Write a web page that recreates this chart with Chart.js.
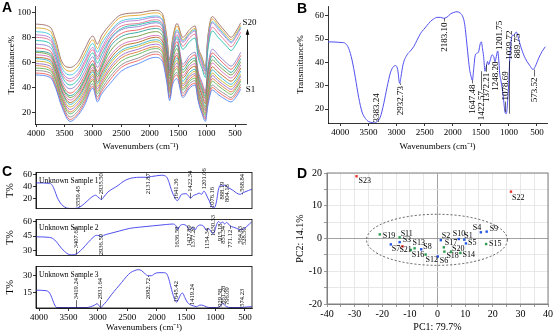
<!DOCTYPE html>
<html>
<head>
<meta charset="utf-8">
<script src="https://cdn.jsdelivr.net/npm/chart.js@4.4.0/dist/chart.umd.min.js"></script>
<style>
  html, body { margin: 0; padding: 0; background: #fff; }
  body { width: 554px; height: 335px; position: relative; overflow: hidden; }
  canvas { position: absolute; }
  .tag { position: absolute; font: bold 14px 'Liberation Sans', Arial, sans-serif; line-height: 14px; }
</style>
</head>
<body>
<canvas id="chA" width="265" height="160" style="left:0;top:0"></canvas>
<canvas id="chB" width="277" height="160" style="left:277px;top:0"></canvas>
<canvas id="chC1" width="262" height="49" style="left:0;top:166px"></canvas>
<canvas id="chC2" width="262" height="49" style="left:0;top:213px"></canvas>
<canvas id="chC3" width="262" height="75" style="left:0;top:260px"></canvas>
<canvas id="chD" width="277" height="170" style="left:277px;top:165px"></canvas>
<div class="tag" style="left:2px;top:0">A</div>
<div class="tag" style="left:297px;top:1px">B</div>
<div class="tag" style="left:2px;top:164px">C</div>
<div class="tag" style="left:297px;top:166px">D</div>
<script>
const serif = "'Liberation Serif', 'Times New Roman', serif";

// ---------- A: FTIR spectra of S1..S20
const wavesA = [4000, 3750, 3650, 3550, 3400, 3250, 3150, 3000, 2920, 2850, 2700, 2500, 2200, 1900, 1780, 1700,
  1650, 1600, 1520, 1420, 1300, 1200, 1150, 1080, 1020, 980, 900, 800, 650, 570, 480, 400];
const s1 = [50, 48, 39, 25, 13, 18.5, 25.5, 39.5, 28.5, 34.5, 43, 53, 59, 64, 61, 44, 29.5, 42, 47, 32, 39.5, 42, 29.5, 19, 13, 25, 38, 34.5, 30, 28.5, 32.5, 38.5];
const s2 = [51.5, 49.5, 40.5, 26.5, 14.5, 20, 27.5, 41, 30.5, 36.5, 46, 56, 61.5, 66.5, 63.5, 46.5, 31.5, 44.5, 50, 33.5, 41, 43.5, 31, 20.5, 14.5, 27, 40, 36.5, 32, 30.5, 34.5, 40.5];
const s3 = [53.5, 51.5, 42, 28, 16.5, 22, 29.5, 43, 32.5, 38.5, 48.5, 58, 63.5, 68.5, 65.5, 48.5, 33, 46, 52, 35.5, 43, 45.5, 32.5, 22, 16, 29, 42, 38.5, 34, 32, 36.5, 42.5];
const s4 = [55.5, 53.5, 44.5, 30, 19, 24.5, 31.5, 45.5, 35, 41, 51.5, 61, 66.5, 71, 68, 50.5, 35.5, 48.5, 55, 38, 45, 47.5, 34.5, 24.5, 18, 31.5, 45, 41.5, 36.5, 34.5, 39, 45];
const s5 = [57.5, 55, 46, 31.5, 20.5, 26, 33.5, 47, 37, 43, 54, 63.5, 68.5, 72.5, 69.5, 52.5, 37, 50.5, 57, 39.5, 46.5, 49.5, 36, 26, 19.5, 33.5, 47, 43.5, 38.5, 36.5, 40.5, 46.5];
const s6 = [59, 57, 47.5, 33, 22.5, 28, 35.5, 49, 39, 45, 56, 65.5, 70.5, 74.5, 71.5, 54.5, 38.5, 52, 59.5, 41.5, 48.5, 51, 38, 28, 21.5, 35.5, 49.5, 45.5, 40.5, 38.5, 42.5, 49];
const s7 = [61, 59, 49.5, 34.5, 24.5, 30, 37.5, 50.5, 41, 47, 58.5, 68, 72.5, 76.5, 73.5, 56, 40, 54, 61.5, 43, 50, 53, 39.5, 29.5, 23, 37.5, 51.5, 47.5, 42.5, 40.5, 44.5, 50.5];
const s8 = [63, 60.5, 51, 36.5, 26.5, 32, 39.5, 52.5, 43, 49, 60.5, 69.5, 74, 78, 75, 57.5, 41.5, 55.5, 63.5, 45, 52, 54.5, 41, 31, 24.5, 40, 54, 50, 44.5, 42.5, 46.5, 53];
const s9 = [64, 62, 52.5, 37.5, 28, 33.5, 41, 54, 44.5, 51, 62.5, 72, 76, 80, 77, 59.5, 43, 57.5, 65.5, 47.5, 54.5, 57, 43.5, 33.5, 27, 42.5, 56.5, 52.5, 47, 45, 49, 55.5];
const s10 = [66, 64, 54, 39, 30, 35.5, 43, 56, 46.5, 53, 65, 74, 78, 81.5, 79, 61.5, 45, 59, 67.5, 49.5, 56.5, 59, 45.5, 35.5, 29, 45, 59.5, 55.5, 49.5, 47.5, 51.5, 58];
const s11 = [68, 65.5, 55.5, 41, 32, 37, 45, 58, 48.5, 55, 68.5, 77.5, 81, 84.5, 81.5, 64, 47, 61.5, 71, 52, 58.5, 61.5, 47.5, 37.5, 31, 47.5, 62, 58, 52, 50, 54, 60.5];
const s12 = [69, 67, 57, 42, 33.5, 38.5, 46.5, 59, 50.5, 56.5, 72, 80.5, 84, 87, 84.5, 67, 49.5, 64.5, 74, 54, 61, 63.5, 49.5, 39.5, 33, 50.5, 65, 60.5, 54.5, 52, 56.5, 63];
const s13 = [71.5, 69, 59, 44, 35.5, 41, 49, 61.5, 52.5, 59, 74.5, 83, 86, 89, 86.5, 69, 51.5, 66.5, 76.5, 56.5, 63, 66, 51.5, 42, 35, 53, 67.5, 63.5, 57, 54.5, 59, 65.5];
const s14 = [74.5, 72, 62, 46.5, 39, 44, 52, 64.5, 56, 62.5, 77.5, 86, 88.5, 91.5, 88.5, 71, 53, 68.5, 79, 58.5, 65.5, 68, 53.5, 44, 37, 55.5, 70.5, 66, 59.5, 57, 61.5, 68];
const s15 = [77.5, 75, 64.5, 49.5, 42, 47, 55.5, 67.5, 59.5, 66, 78.5, 87, 90, 92.5, 90, 72, 54, 69.5, 80.5, 70.5, 76.5, 79.5, 64.5, 55, 48, 69, 85, 80, 73, 69.5, 74.5, 81];
const s16 = [80, 77.5, 67, 51.5, 45, 50, 58.5, 70, 62.5, 69, 80.5, 89, 91, 94, 91, 73.5, 55.5, 71, 82, 73, 79.5, 82.5, 67, 57.5, 50.5, 72, 88, 83.5, 76, 72.5, 77.5, 84];
const s17 = [82, 79.5, 69, 53.5, 47, 52, 60.5, 72, 64.5, 71, 83, 91.5, 93.5, 96, 93.5, 75.5, 57, 73, 84.5, 76, 82, 85, 69.5, 60, 53, 75.5, 91.5, 86.5, 79, 75.5, 80.5, 87];
const s18 = [84.5, 82, 71.5, 56, 50, 55, 63.5, 75, 68, 74.5, 84.5, 93, 95, 97, 94.5, 76.5, 58.5, 74.5, 86, 77, 83, 86, 70, 61, 53.5, 76.5, 92.5, 88, 80, 76.5, 81.5, 88];
const s19 = [87.5, 85, 74, 58.5, 53, 58, 66.5, 78, 71, 77.5, 87.5, 96, 97.5, 99.5, 97, 79, 60.5, 76.5, 89, 78, 84, 87, 71.5, 62.5, 55, 78, 94.5, 89.5, 81.5, 78, 83, 89.5];
const s20 = [90.5, 88, 77, 61, 56, 61, 70, 81, 74.5, 81, 90, 98, 99.5, 101.5, 99, 81, 62, 78.5, 91, 80, 86, 89, 73, 64, 56.5, 80, 96.5, 91.5, 83.5, 80, 85, 91.5];
const seriesA = [s1, s2, s3, s4, s5, s6, s7, s8, s9, s10, s11, s12, s13, s14, s15, s16, s17, s18, s19, s20];
const colorsA = ['#4f86f7', '#f0625d', '#8c8c8c', '#5cb85c', '#e07b39', '#9b6bcc', '#c9b227', '#33b5c9', '#b5651d', '#d66cb8',
  '#6c9a3a', '#2aa198', '#e8575a', '#8a7fd0', '#20c0b0', '#e26f8f', '#b27ad6', '#3fc7de', '#e0a82e', '#9c6b66'];
const xTicksA = [4000, 3500, 3000, 2500, 2000, 1500, 1000, 500];
const yTicksA = [20, 40, 60, 80, 100];

// ---------- B: single spectrum with peak labels
const wavesB = [4220, 3970, 3911, 3852, 3792, 3733, 3674, 3614, 3555, 3496, 3437, 3400, 3347, 3288, 3229, 3170, 3110, 3051, 3015, 2980,
  2944, 2920, 2885, 2814, 2754, 2695, 2636, 2576, 2517, 2458, 2398, 2339, 2280, 2220, 2161, 2102, 2042, 1983, 1924, 1864,
  1829, 1793, 1770, 1746, 1723, 1699, 1675, 1650, 1628, 1598, 1568, 1539, 1509, 1491, 1467, 1450, 1426, 1403, 1379, 1361,
  1331, 1301, 1271, 1248, 1224, 1200, 1176, 1165, 1141, 1117, 1093, 1070, 1046, 1022, 1004, 987, 963, 939, 915, 892,
  868, 844, 797, 737, 678, 618, 571, 530, 470, 411, 352];
const valuesB = [48.8, 48.5, 48.1, 46, 41, 33.4, 25, 18.7, 16, 14.6, 14.2, 14, 14.6, 16.6, 22.2, 29.2, 35.5, 38.3, 38.6, 36.9,
  31, 34, 39, 43.2, 44.9, 46.7, 49.5, 52.3, 54.1, 55.8, 57.5, 58.6, 59.3, 59.3, 58.9, 59.4, 60.7, 61.4, 61.7, 61.1,
  60, 57.2, 53, 47.4, 41.8, 36.9, 34.1, 32.3, 36.9, 43.2, 43.9, 44.6, 48.1, 48.8, 45.3, 42.5, 36.2, 38.3, 40.4, 39,
  41.1, 43.2, 42.5, 40.4, 42.5, 44.9, 39.7, 35.5, 32, 28.5, 23.6, 18.7, 18, 23.6, 30.6, 40.4, 48.8, 51.6, 51.6, 52.3,
  53, 51.6, 47.4, 43.2, 40.4, 38.3, 36.9, 38.3, 41.8, 44.6, 46.7];
const yTicksB = [20, 30, 40, 50, 60];
// [label, x, text bottom, curve value]
const peaksB = [
  ['3383.24', 3360, 14.2, 13.5], ['2932.73', 2940, 17.3, 31], ['2183.10', 2160, 44.6, 58.9],
  ['1647.48', 1660, 18, 32.3], ['1422.57', 1500, 15.2, 36.2], ['1372.21', 1410, 23, 39],
  ['1248.20', 1245, 27.8, 40.4], ['1201.75', 1185, 45.3, 44.9], ['1078.69', 1065, 23.6, 18.7],
  ['1039.72', 1005, 41.1, 18], ['889.75', 858, 41.8, 52.3], ['573.52', 560, 22.9, 36.9]
];

// ---------- C: three unknown samples
const samplesC = ['Unknown Sample 1', 'Unknown Sample 2', 'Unknown Sample 3'];
const wavesC1 = [4050, 3818, 3773, 3733, 3694, 3648, 3592, 3535, 3478, 3393, 3308, 3223, 3138, 3081, 3036, 3002, 2979, 2939, 2900, 2826,
  2741, 2656, 2571, 2485, 2400, 2287, 2173, 2088, 2003, 1918, 1861, 1822, 1788, 1754, 1720, 1680, 1652, 1618, 1578, 1538,
  1504, 1464, 1425, 1380, 1323, 1277, 1238, 1198, 1170, 1141, 1107, 1073, 1039, 1011, 982, 954, 926, 897, 869, 840,
  812, 755, 699, 642, 585, 528, 443, 387];
const valuesC1 = [45.8, 45, 41.5, 32.9, 22.2, 13.5, 7.1, 3.7, 2.8, 2.8, 5, 11.4, 19.1, 23.4, 25.2, 22.2, 20.5, 17.8, 22, 30.8,
  36.3, 41.5, 48, 52.3, 54.4, 55.3, 55.3, 56.6, 57.8, 58.7, 57.8, 54.4, 45.8, 35, 26.5, 19.1, 15.7, 19.9, 26.5, 27.3,
  27.7, 24.3, 20, 24.3, 26.5, 28.6, 26.5, 32, 28.6, 22.2, 15.7, 7.1, 3.7, 5, 15.7, 32.9, 41.5, 42.4, 40.6, 42.4,
  39.4, 36.3, 32.9, 28.6, 26.5, 29.5, 32.9, 35];
const wavesC2 = [4050, 3818, 3733, 3677, 3620, 3563, 3506, 3450, 3393, 3336, 3251, 3166, 3081, 3024, 2979, 2939, 2900, 2797, 2627, 2457,
  2287, 2060, 1833, 1720, 1674, 1646, 1606, 1549, 1493, 1436, 1391, 1351, 1312, 1266, 1210, 1181, 1153, 1124, 1084, 1051,
  1022, 982, 948, 914, 880, 846, 812, 755, 699, 642, 585, 528, 472, 387];
const valuesC2 = [44.2, 43.6, 40.9, 36.8, 32.2, 28.6, 25.9, 25.1, 25.4, 27.3, 32.2, 38.2, 43.6, 45.8, 45.5, 44.2, 45.8, 47.7, 50.5, 53.2,
  54.5, 55.9, 57.3, 57.8, 55.9, 51.8, 55.9, 57.3, 55.9, 51.3, 54.5, 51.3, 55.1, 56.7, 55.9, 53.2, 51.3, 53.2, 50.5, 47.7,
  49.1, 57.3, 60.5, 58.6, 60, 57.8, 59.5, 55.9, 54.5, 53.2, 51.8, 52.4, 55.1, 60];
const wavesC3 = [4050, 3875, 3818, 3773, 3733, 3694, 3500, 3200, 3053, 3013, 2979, 2951, 2911, 2854, 2769, 2684, 2599, 2514, 2446, 2372,
  2315, 2259, 2202, 2145, 2088, 2032, 1975, 1890, 1833, 1799, 1765, 1731, 1697, 1663, 1629, 1595, 1561, 1521, 1481, 1436,
  1380, 1323, 1266, 1210, 1153, 1096, 982, 926, 880, 846, 812, 755, 585, 472, 387];
const valuesC3 = [17.1, 16.6, 14.5, 9.1, 3.8, 1.6, 1.6, 1.6, 3.8, 5.1, 3.2, 1.6, 3.8, 7, 13.1, 18.5, 23.8, 29.2, 32.7, 34.6,
  35.4, 34.6, 31.9, 30, 30, 31.9, 32.7, 32.7, 31.9, 27.9, 21.2, 14.5, 9.1, 6.4, 9.1, 13.1, 14.5, 10.4, 6.4, 4.3,
  3.2, 2.4, 3.8, 3.5, 2.1, 1.6, 1.6, 2.4, 5.1, 3.8, 2.4, 1.6, 1.6, 2.1, 2.4];
const yTicksC1 = [20, 40, 60];
const yTicksC2 = [30, 45, 60];
const yTicksC3 = [15, 30];
const peaksC1 = [
  ['3559.45', 3336, 4.9, 2.8], ['2935.50', 2939, 26.5, 17.8], ['2131.87', 2145, 26.5, 56],
  ['1641.36', 1674, 17.8, 15.7], ['1422.34', 1436, 30.8, 20], ['1201.06', 1198, 35, 32],
  ['1076.16', 1056, 3.5, 4], ['888.19', 891, 17.8, 42], ['804.18', 801, 13.5, 39], ['568.84', 557, 30.8, 26.5]
];
const peaksC2 = [
  ['3407.67', 3365, 32.2, 25.4], ['2936.59', 2939, 24.8, 44.2], ['1636.59', 1663, 32.7, 51.8],
  ['1427.89', 1447, 34.1, 51.3], ['1377.26', 1379, 32.7, 51.3], ['1154.34', 1152, 31.4, 51.3],
  ['1030.33', 1039, 45, 47.7], ['915.18', 920, 39.5, 58.6], ['851.34', 869, 36.8, 57.8],
  ['771.12', 755, 32.7, 55.9], ['564.83', 585, 36.8, 51.8], ['528.50', 517, 35.5, 52.4]
];
const peaksC3 = [
  ['3419.24', 3365, 9.1, 1.6], ['2931.64', 2968, 9.1, 1.6], ['2082.72', 2145, 9.1, 30],
  ['1645.42', 1674, 6.4, 6.4], ['1419.24', 1408, 3.8, 4.3], ['929.58', 926, 2.4, 2.4],
  ['861.28', 880, 5.1, 5.1], ['796.09', 812, 3.8, 3.8], ['574.23', 557, 2.4, 2.4]
];

// ---------- D: PCA scores
const pcaNames = ['S1', 'S2', 'S3', 'S4', 'S5', 'S6', 'S7', 'S8', 'S9', 'S10', 'S11', 'S12',
  'S13', 'S14', 'S15', 'S16', 'S17', 'S18', 'S19', 'S20', 'S21', 'S22', 'S23'];
const pcaPC1 = [9.7, 1.2, -13.7, 15.7, 10.3, 0.1, -16.9, -5.9, 17.8, 7.7, -13.7, -4.3,
  -8.3, 8.3, 17.6, -9.7, 2.3, 2.5, -20.9, 4.9, -12.7, 26.6, -29.3];
const pcaPC2 = [-0.35, -0.5, -1.1, 1.9, -1.5, -5.5, -1.8, -3.3, 2.1, -0.15, 0.35, -4.9,
  -3.0, -4.4, -1.7, -3.5, -2.7, -4.0, 1.25, -4.0, -2.4, 14.3, 19.0];
const pcaGroup = [0, 0, 0, 0, 0, 0, 0, 0, 0, 0, 1, 1, 1, 1, 1, 1, 1, 1, 1, 1, 2, 2, 2];
const groupColors = ['#2457e6', '#2a9d4f', '#e8322b'];
const labelShiftD = [[0, -4], [1, -4], [3, -2], [-8, -4], [2, -1], [2, 4], [1, 5], [2, -2], [3, -3], [-6, -5], [1, -3], [0, 5],
  [-2, -5], [2, 2], [3, 0], [1, 5], [1, -4], [2, 4], [3, 1], [1, -3], [-3, 4], [1, 6], [2, 5]];
const ellipseD = [-0.2, -0.4, 25.5, 7.8];
const xTicksD = [-40, -30, -20, -10, 0, 10, 20, 30, 40];
const yTicksD = [-20, -10, 0, 10, 20];
const xGridD = [-40, -35, -30, -25, -20, -15, -10, -5, 0, 5, 10, 15, 20, 25, 30, 35, 40];
const yGridD = [-20, -15, -10, -5, 0, 5, 10, 15, 20];

// ---------- helpers
function axis(min, max, tickValues, size, extra) {
  const a = {
    type: 'linear', min, max,
    afterBuildTicks: s => { s.ticks = tickValues.map(v => ({ value: v })); },
    grid: { display: true, drawOnChartArea: false, drawTicks: true, tickLength: 3, color: '#000', lineWidth: 0.8 },
    border: { display: true, color: '#000', width: 0.8 },
    ticks: { color: '#000', font: { family: serif, size: 9 }, padding: 1, maxRotation: 0, autoSkip: false,
      callback: v => String(v) },
    afterFit: s => { if (s.isHorizontal()) s.height = size; else s.width = size; }
  };
  return Object.assign(a, extra || {});
}
function title(text, pad, size) {
  return { display: true, text, color: '#000', font: { family: serif, size: size || 9 }, padding: pad };
}
function spectrum(xs, ys, color) {
  return {
    data: xs.map((x, i) => ({ x, y: ys[i] })),
    borderColor: color, borderWidth: 1, pointRadius: 0, fill: false,
    cubicInterpolationMode: 'monotone'
  };
}
function peakPlugin(items, size) {
  return {
    id: 'peaks',
    afterDatasetsDraw(chart) {
      const { ctx, scales: { x, y } } = chart;
      ctx.save();
      ctx.font = size + 'px ' + serif;
      ctx.fillStyle = '#000';
      ctx.strokeStyle = '#000';
      ctx.lineWidth = 0.6;
      items.forEach(([text, wn, bottom, curve]) => {
        const px = Math.round(x.getPixelForValue(wn)) + 0.5;
        const pb = y.getPixelForValue(bottom);
        const pt = pb - ctx.measureText(text).width;
        ctx.save();
        ctx.translate(px, pb);
        ctx.rotate(-Math.PI / 2);
        ctx.textAlign = 'left';
        ctx.textBaseline = 'middle';
        ctx.fillText(text, 0, 0);
        ctx.restore();
        const pc = y.getPixelForValue(curve);
        ctx.beginPath();
        if (pc < pt - 2) { ctx.moveTo(px, pt - 1); ctx.lineTo(px, pc); }
        else if (pc > pb + 2) { ctx.moveTo(px, pb + 1); ctx.lineTo(px, pc); }
        ctx.stroke();
      });
      ctx.restore();
    }
  };
}
function framePlugin(color, caption) {
  return {
    id: 'frame',
    afterDraw(chart) {
      const { ctx, chartArea: a } = chart;
      ctx.save();
      ctx.strokeStyle = color;
      ctx.lineWidth = 0.8;
      ctx.strokeRect(a.left, a.top, a.right - a.left, a.bottom - a.top);
      if (caption) {
        ctx.font = '7.5px ' + serif;
        ctx.fillStyle = '#000';
        ctx.textBaseline = 'middle';
        ctx.fillText(caption, a.left + 3, a.top + 9);
      }
      ctx.restore();
    }
  };
}
const base = { responsive: false, animation: false, devicePixelRatio: 1, events: [] };
const noLegend = { legend: { display: false }, tooltip: { enabled: false } };

// ---------- A
const arrowPlugin = {
  id: 'arrowA',
  afterDraw(chart) {
    const { ctx, chartArea, scales: { y } } = chart;
    const xr = chartArea.right + 1.5;
    const yTop = y.getPixelForValue(s20[s20.length - 1]);
    const yBot = y.getPixelForValue(s1[s1.length - 1]);
    ctx.save();
    ctx.font = '9px ' + serif;
    ctx.fillStyle = '#000';
    ctx.textBaseline = 'middle';
    ctx.textAlign = 'center';
    ctx.fillText('S20', xr + 2, yTop);
    ctx.fillText('S1', xr + 3, yBot);
    ctx.strokeStyle = '#000';
    ctx.lineWidth = 0.8;
    ctx.beginPath(); ctx.moveTo(xr, yBot - 5); ctx.lineTo(xr, yTop + 9); ctx.stroke();
    ctx.beginPath(); ctx.moveTo(xr, yTop + 6); ctx.lineTo(xr - 1.8, yTop + 12); ctx.lineTo(xr + 1.8, yTop + 12);
    ctx.closePath(); ctx.fill();
    ctx.restore();
  }
};
new Chart(document.getElementById('chA'), {
  type: 'line',
  data: { datasets: seriesA.map((v, i) => Object.assign(spectrum(wavesA, v, colorsA[i]), { label: 'S' + (i + 1), borderWidth: 0.9 })) },
  options: Object.assign({}, base, {
    layout: { padding: { left: 0, top: 3, right: 19, bottom: 0 } },
    plugins: noLegend,
    scales: {
      x: axis(307, 4018, xTicksA, 36, { reverse: true, title: title('Wavenumbers (cm\u207B\u00B9)', { top: 0, bottom: 8 }) }),
      y: axis(10.9, 104.6, yTicksA, 35, { title: title('Transmittance%', { top: 6.5, bottom: 0 }) })
    }
  }),
  plugins: [arrowPlugin]
});

// ---------- B
new Chart(document.getElementById('chB'), {
  type: 'line',
  data: { datasets: [spectrum(wavesB, valuesB, '#5050ee')] },
  options: Object.assign({}, base, {
    layout: { padding: { left: 0, top: 4, right: 7, bottom: 0 } },
    plugins: noLegend,
    scales: {
      x: axis(322, 4220, xTicksA, 37, { reverse: true, title: title('Wavenumbers (cm\u207B\u00B9)', { top: 0, bottom: 8 }) }),
      y: axis(14, 64, yTicksB, 51, { title: title('Transmittance%', { top: 18.5, bottom: 0 }) })
    }
  }),
  plugins: [peakPlugin(peaksB, 9)]
});

// ---------- C
function makeC(id, xs, ys, yMin, yMax, yTicks, peaks, caption, showX) {
  const xAxis = showX
    ? axis(381, 4051, xTicksA, 27, { reverse: true, title: title('Wavenumbers (cm\u207B\u00B9)', { top: 0, bottom: 1.5 }) })
    : { type: 'linear', min: 381, max: 4051, reverse: true, display: false };
  new Chart(document.getElementById(id), {
    type: 'line',
    data: { datasets: [spectrum(xs, ys, '#5050ee')] },
    options: Object.assign({}, base, {
      layout: { padding: { left: 0, top: 2, right: 10, bottom: 0 } },
      plugins: noLegend,
      scales: {
        x: xAxis,
        y: axis(yMin, yMax, yTicks, 36, { title: title('T%', { top: 4, bottom: 0 }, 10) })
      }
    }),
    plugins: [peakPlugin(peaks, 6.5), framePlugin('#000', caption)]
  });
}
makeC('chC1', wavesC1, valuesC1, 2.5, 63.5, yTicksC1, peaksC1, samplesC[0], false);
makeC('chC2', wavesC2, valuesC2, 24.3, 62.7, yTicksC2, peaksC2, samplesC[1], false);
makeC('chC3', wavesC3, valuesC3, 1.2, 38.3, yTicksC3, peaksC3, samplesC[2], true);

// ---------- D
const pcaPlugin = {
  id: 'pca',
  afterDatasetsDraw(chart) {
    const { ctx, chartArea: a, scales: { x, y } } = chart;
    ctx.save();
    ctx.strokeStyle = '#808080';
    ctx.lineWidth = 1;
    ctx.strokeRect(a.left, a.top, a.right - a.left, a.bottom - a.top);
    const cx = x.getPixelForValue(ellipseD[0]);
    const cy = y.getPixelForValue(ellipseD[1]);
    const rx = Math.abs(x.getPixelForValue(ellipseD[0] + ellipseD[2]) - cx);
    const ry = Math.abs(y.getPixelForValue(ellipseD[1] + ellipseD[3]) - cy);
    ctx.setLineDash([2, 2]);
    ctx.strokeStyle = '#333';
    ctx.lineWidth = 0.8;
    ctx.beginPath();
    ctx.ellipse(cx, cy, rx, ry, 0, 0, Math.PI * 2);
    ctx.stroke();
    ctx.setLineDash([]);
    ctx.font = '8px ' + serif;
    ctx.fillStyle = '#000';
    ctx.textBaseline = 'middle';
    ctx.textAlign = 'left';
    pcaNames.forEach((n, i) => {
      const [dx, dy] = labelShiftD[i];
      ctx.fillText(n, x.getPixelForValue(pcaPC1[i]) + dx, y.getPixelForValue(pcaPC2[i]) + dy);
    });
    ctx.restore();
  }
};
const gridD = {
  display: true, drawOnChartArea: true, drawTicks: true, tickLength: 3, lineWidth: 0.8,
  color: c => (c.tick && c.tick.value === 0 ? '#8a8a8a' : '#e2e2e2'), tickColor: '#808080'
};
new Chart(document.getElementById('chD'), {
  type: 'scatter',
  data: {
    datasets: groupColors.map((col, g) => ({
      data: pcaNames.map((n, i) => ({ x: pcaPC1[i], y: pcaPC2[i], g: pcaGroup[i] })).filter(p => p.g === g),
      backgroundColor: col, borderColor: col, pointStyle: 'rect', pointRadius: 1.7, borderWidth: 0
    }))
  },
  options: Object.assign({}, base, {
    layout: { padding: { left: 0, top: 4, right: 5, bottom: 0 } },
    plugins: noLegend,
    scales: {
      x: axis(-40, 40, xGridD, 31, {
        grid: gridD, border: { display: true, color: '#808080', width: 1 },
        ticks: { color: '#000', font: { family: serif, size: 10 }, padding: 1, maxRotation: 0, autoSkip: false,
          callback: v => (xTicksD.includes(v) ? String(v) : '') },
        title: title('PC1: 79.7%', { top: 0, bottom: 2 }, 10)
      }),
      y: axis(-20, 20, yGridD, 50, {
        grid: gridD, border: { display: true, color: '#808080', width: 1 },
        ticks: { color: '#000', font: { family: serif, size: 10 }, padding: 2, autoSkip: false,
          callback: v => (yTicksD.includes(v) ? String(v) : '') },
        title: title('PC2: 14.1%', { top: 17, bottom: 0 }, 10)
      })
    }
  }),
  plugins: [pcaPlugin]
});
</script>
</body>
</html>
